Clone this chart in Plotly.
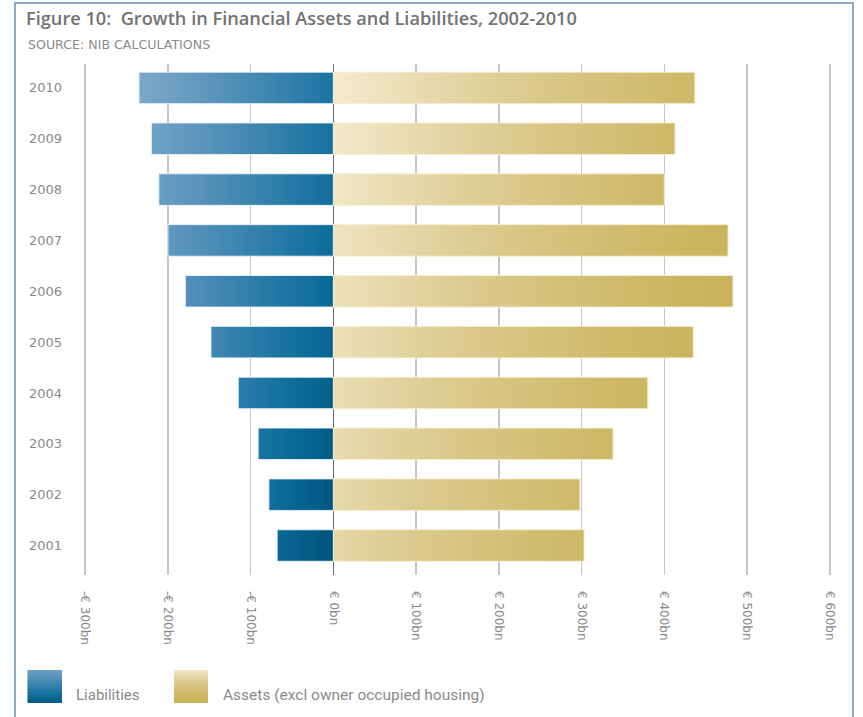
import plotly.graph_objects as go

# ---------------- data ----------------
years = ["2001", "2002", "2003", "2004", "2005", "2006", "2007", "2008", "2009", "2010"]
liabilities = [-68, -78, -91, -115, -148, -179, -200, -211, -220, -235]
assets = [303, 298, 338, 380, 435, 483, 477, 400, 413, 437]
x_tick_vals = [-300, -200, -100, 0, 100, 200, 300, 400, 500, 600]
x_tick_text = ["-€ 300bn", "-€ 200bn", "-€ 100bn", "€ 0bn", "€ 100bn",
               "€ 200bn", "€ 300bn", "€ 400bn", "€ 500bn", "€ 600bn"]
series_names = ["Liabilities", "Assets (excl owner occupied housing)"]

# ---------------- layout geometry ----------------
W, H = 863, 717
L, R, T, B = 84, 32, 64, 142
PW, PH = W - L - R, H - T - B


def px(x):
    return (x - L) / PW


def py(y):
    return 1 - (y - T) / PH


def hex2rgb(h):
    h = h.lstrip("#")
    return [int(h[i:i + 2], 16) for i in (0, 2, 4)]


def ramp(stops, s):
    s = max(0.0, min(1.0, s))
    for (p0, c0), (p1, c1) in zip(stops[:-1], stops[1:]):
        if s <= p1:
            t = 0 if p1 == p0 else (s - p0) / (p1 - p0)
            a, b = hex2rgb(c0), hex2rgb(c1)
            return "rgb(%d,%d,%d)" % tuple(round(a[k] + (b[k] - a[k]) * t) for k in range(3))
    return stops[-1][1]


BLUE = [(0, "#8fb6d2"), (0.35, "#5f97be"), (0.7, "#1f76a3"), (0.82, "#0a6b97"), (1, "#00527d")]
GOLD = [(0, "#f3ebce"), (0.35, "#dccb8f"), (0.7, "#cdb865"), (1, "#c4ae50")]

HALF = 0.31
n = len(years)
fig = go.Figure()

for i in range(n):
    yb, yt = i - HALF, i + HALF
    rowf = (n - 1 - i) / (n - 1)  # 0 at top row, 1 at bottom row
    # liabilities bar (gradient from -300 to 0)
    xs = [-300 + 300 * k / 6 for k in range(7)]
    cs = [[k / 6, ramp(BLUE, 0.72 * (x + 300) / 300 + 0.28 * rowf)] for k, x in enumerate(xs)]
    v = liabilities[i]
    fig.add_trace(go.Scatter(
        x=[0, v, v, 0, 0], y=[yb, yb, yt, yt, yb], mode="lines", fill="toself",
        line=dict(color="rgba(235,242,248,0.9)", width=1),
        fillgradient=dict(type="horizontal", colorscale=cs, start=-300, stop=0),
        name=series_names[0], showlegend=False, hoverinfo="skip"))
    # assets bar (gradient from 0 to 500)
    xs = [500 * k / 6 for k in range(7)]
    cs = [[k / 6, ramp(GOLD, 0.8 * x / 500 + 0.22 * rowf)] for k, x in enumerate(xs)]
    v = assets[i]
    fig.add_trace(go.Scatter(
        x=[0, v, v, 0, 0], y=[yb, yb, yt, yt, yb], mode="lines", fill="toself",
        line=dict(color="rgba(245,238,210,0.95)", width=1),
        fillgradient=dict(type="horizontal", colorscale=cs, start=0, stop=500),
        name=series_names[1], showlegend=False, hoverinfo="skip"))

shapes = []
# outer frame
shapes.append(dict(type="rect", xref="paper", yref="paper",
                   x0=px(15), x1=px(853), y0=py(725), y1=py(3),
                   line=dict(color="#8fa9c2", width=2), fillcolor="rgba(0,0,0,0)", layer="below"))


# legend swatches (stacked strips to imitate the gradient)
def swatch(x0, y0, x1, y1, stops, tilt):
    N = 12
    h = (y1 - y0) / N
    for k in range(N):
        ya = y0 + h * k
        yb_ = min(y1, ya + h + 0.8)
        s = tilt[0] + (tilt[1] - tilt[0]) * (k + 0.5) / N
        shapes.append(dict(type="rect", xref="paper", yref="paper",
                           x0=px(x0), x1=px(x1), y0=py(yb_), y1=py(ya),
                           line=dict(width=0), fillcolor=ramp(stops, s)))


swatch(27.5, 670, 62, 703, BLUE, (0.25, 0.95))
swatch(174, 670, 208, 703, GOLD, (0.05, 0.9))

annotations = [
    dict(text="SOURCE: NIB CALCULATIONS", xref="paper", yref="paper", x=px(26), y=py(44),
         xanchor="left", yanchor="middle", showarrow=False,
         font=dict(family="DejaVu Sans", size=12.6, color="#8a8a8a")),
    dict(text=series_names[0], xref="paper", yref="paper", x=px(74), y=py(695),
         xanchor="left", yanchor="middle", showarrow=False,
         font=dict(family="Roboto", size=15, color="#8a8a8a")),
    dict(text=series_names[1], xref="paper", yref="paper", x=px(221), y=py(695),
         xanchor="left", yanchor="middle", showarrow=False,
         font=dict(family="Roboto", size=15.5, color="#8a8a8a")),
]

fig.update_layout(
    width=W, height=H,
    margin=dict(l=L, r=R, t=T, b=B),
    paper_bgcolor="white", plot_bgcolor="white",
    title=dict(text="Figure 10:  Growth in Financial Assets and Liabilities, 2002-2010",
               x=26 / W, xanchor="left", y=1 - 19 / H, yanchor="middle",
               font=dict(family="Open Sans", size=18.2, color="#737373", weight=600)),
    xaxis=dict(range=[-301.5, 601.5], tickvals=x_tick_vals, ticktext=x_tick_text,
               tickangle=90, showgrid=True, gridcolor="#c6c6c6", gridwidth=1.5,
               zeroline=True, zerolinecolor="#6b6b6b", zerolinewidth=1.5,
               showline=False, ticks="", ticklabelstandoff=15,
               tickfont=dict(family="DejaVu Sans", size=12, color="#8a8a8a"),
               fixedrange=True, automargin=False),
    yaxis=dict(range=[-0.58, 9.47], tickvals=list(range(n)), ticktext=years,
               showgrid=False, zeroline=False, showline=False, ticks="",
               ticklabelstandoff=21,
               tickfont=dict(family="DejaVu Sans", size=13, color="#8a8a8a"),
               fixedrange=True, automargin=False),
    shapes=shapes,
    annotations=annotations,
    showlegend=False,
)

fig.write_html("out.html",
               config={"displayModeBar": False, "staticPlot": True},
               post_script="document.body.style.margin='0px';document.body.style.overflow='hidden';")
